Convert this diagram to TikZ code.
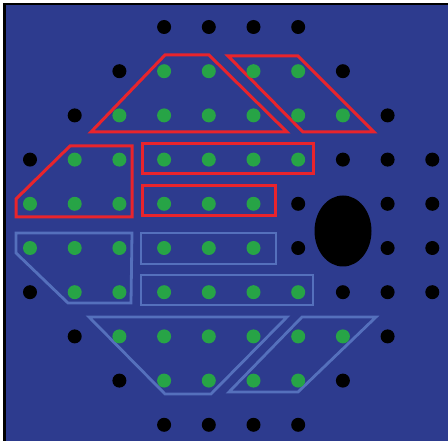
\documentclass[tikz,border=0pt]{standalone}
\usetikzlibrary{shapes.geometric}
\definecolor{bgblue}{HTML}{2D3B8E}
\definecolor{dotgreen}{HTML}{27A446}
\definecolor{outred}{HTML}{E8242C}
\definecolor{outlight}{HTML}{5570BC}
\tikzset{
  gdot/.style={circle,fill=dotgreen,inner sep=0pt,minimum size=14pt},
  bdot/.style={circle,fill=black,inner sep=0pt,minimum size=14pt},
  redline/.style={draw=outred,line width=3pt,line join=miter},
  lightline/.style={draw=outlight,line width=2.8pt,line join=miter},
}
\begin{document}
\begin{tikzpicture}[x=1pt,y=-1pt]
\useasboundingbox (0,0) rectangle (448,441);
\fill[white] (0,0) rectangle (448,441);
\fill[bgblue] (3,3) rectangle (448,441);
\fill[black] (3,3) rectangle (6,441);
\fill[black] (3,3) rectangle (448,5.5);
% outlines (red)
\path[redline] (165,55) -- (209,55) -- (287,132) -- (91,132) -- cycle;
\path[redline] (228,56) -- (298,56) -- (374,132) -- (303,132) -- cycle;
\path[redline] (16,217) -- (16,199) -- (70,146) -- (132,146) -- (132,217) -- cycle;
\path[redline] (142,144) rectangle (313,174);
\path[redline] (142,186) rectangle (275,216);
% outlines (light)
\path[lightline] (16,233) -- (132,233) -- (131,303) -- (68,303) -- (16,253) -- cycle;
\path[lightline] (141,233) rectangle (276,264);
\path[lightline] (141,275) rectangle (313,305);
\path[lightline] (89,317) -- (287,317) -- (211,394) -- (165,394) -- cycle;
\path[lightline] (302,317) -- (376,317) -- (298,392) -- (229,392) -- cycle;
% hole
\fill[black] (343,231) ellipse (28.5 and 35.5);
% dots
\foreach \r/\c/\t in {0/3/b,0/4/b,0/5/b,0/6/b,
  1/2/b,1/3/g,1/4/g,1/5/g,1/6/g,1/7/b,
  2/1/b,2/2/g,2/3/g,2/4/g,2/5/g,2/6/g,2/7/g,2/8/b,
  3/0/b,3/1/g,3/2/g,3/3/g,3/4/g,3/5/g,3/6/g,3/7/b,3/8/b,3/9/b,
  4/0/g,4/1/g,4/2/g,4/3/g,4/4/g,4/5/g,4/6/b,4/8/b,4/9/b,
  5/0/g,5/1/g,5/2/g,5/3/g,5/4/g,5/5/g,5/6/b,5/8/b,5/9/b,
  6/0/b,6/1/g,6/2/g,6/3/g,6/4/g,6/5/g,6/6/g,6/7/b,6/8/b,6/9/b,
  7/1/b,7/2/g,7/3/g,7/4/g,7/5/g,7/6/g,7/7/g,7/8/b,
  8/2/b,8/3/g,8/4/g,8/5/g,8/6/g,8/7/b,
  9/3/b,9/4/b,9/5/b,9/6/b}{
  \pgfmathsetmacro\px{30+44.7*\c}
  \pgfmathsetmacro\py{27+44.2*\r}
  \node[\t dot] (d\r-\c) at (\px,\py) {};
}
\end{tikzpicture}
\end{document}
